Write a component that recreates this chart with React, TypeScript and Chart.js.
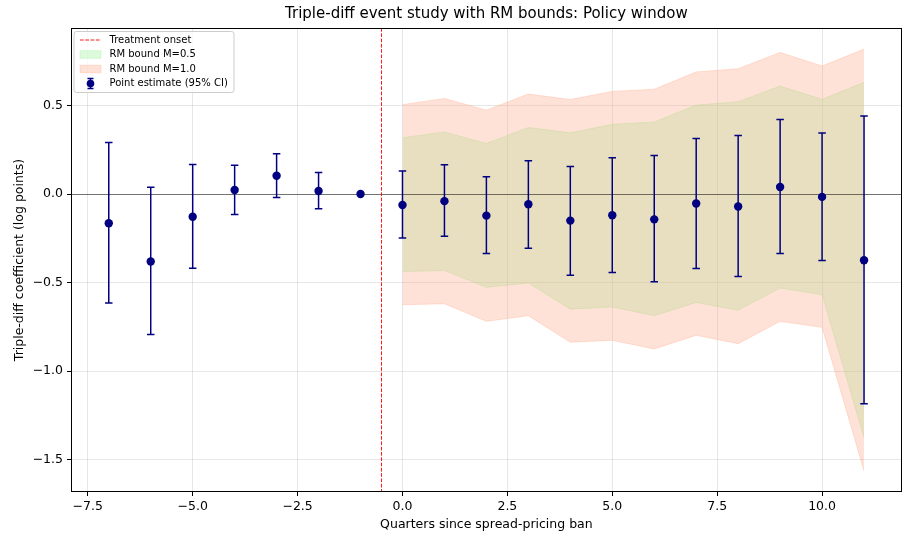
import React, { useEffect, useRef } from "react";
import { Chart, registerables } from "chart.js";

Chart.register(...registerables);

// ---------- data ----------
const TITLE = "Triple-diff event study with RM bounds: Policy window";
const X_LABEL = "Quarters since spread-pricing ban";
const Y_LABEL = "Triple-diff coefficient (log points)";

const QUARTERS = [-7, -6, -5, -4, -3, -2, -1, 0, 1, 2, 3, 4, 5, 6, 7, 8, 9, 10, 11];
const ESTIMATE = [-0.165, -0.381, -0.128, 0.023, 0.103, 0.017, 0.0, -0.062, -0.04, -0.122, -0.058, -0.15, -0.12, -0.143, -0.053, -0.07, 0.04, -0.016, -0.374];
const CI_LOW = [-0.616, -0.794, -0.419, -0.116, -0.019, -0.083, 0.0, -0.248, -0.239, -0.336, -0.306, -0.458, -0.443, -0.496, -0.421, -0.466, -0.336, -0.376, -1.185];
const CI_HIGH = [0.291, 0.038, 0.167, 0.163, 0.227, 0.122, 0.0, 0.13, 0.165, 0.098, 0.188, 0.156, 0.205, 0.218, 0.314, 0.331, 0.421, 0.345, 0.441];

const BAND_QUARTERS = [0, 1, 2, 3, 4, 5, 6, 7, 8, 9, 10, 11];
const M05_HIGH = [0.318, 0.351, 0.286, 0.376, 0.346, 0.394, 0.407, 0.503, 0.522, 0.61, 0.535, 0.631];
const M05_LOW = [-0.438, -0.432, -0.527, -0.503, -0.65, -0.638, -0.687, -0.612, -0.657, -0.531, -0.569, -1.376];
const M10_HIGH = [0.505, 0.54, 0.474, 0.565, 0.534, 0.58, 0.592, 0.69, 0.708, 0.8, 0.723, 0.819];
const M10_LOW = [-0.625, -0.62, -0.719, -0.687, -0.837, -0.826, -0.875, -0.798, -0.845, -0.719, -0.753, -1.564];

const ONSET = -0.5;
const X_TICKS = [-7.5, -5, -2.5, 0, 2.5, 5, 7.5, 10];
const Y_TICKS = [-1.5, -1, -0.5, 0, 0.5];
const X_LIMITS = [-7.9, 11.9];
const Y_LIMITS = [-1.683, 0.938];

const LEGEND_LABELS = ["Treatment onset", "RM bound M=0.5", "RM bound M=1.0", "Point estimate (95% CI)"];

// ---------- styles ----------
const FONT = '"DejaVu Sans", "Liberation Sans", sans-serif';
const NAVY = "#000080";
const RED = "rgba(255,0,0,0.9)";
const GREEN_A = "rgba(144,238,144,0.3)";
const SALMON_A = "rgba(255,160,122,0.3)";
const GRID = "rgba(176,176,176,0.3)";

const fmt = (v: number) => {
  const s = v.toFixed(1);
  return s.startsWith("-") ? "\u2212" + s.slice(1) : s;
};

const pts = (xs: number[], ys: number[]) => xs.map((x, i) => ({ x, y: ys[i] }));

const overlay = {
  id: "overlay",
  beforeDatasetDraw(chart: any, args: any) {
    if (args.index !== 0) return;
    const { ctx, chartArea: ca, scales } = chart;
    const xs = scales.x;
    const ys = scales.y;
    ctx.save();
    ctx.beginPath();
    ctx.rect(ca.left, ca.top, ca.right - ca.left, ca.bottom - ca.top);
    ctx.clip();
    // zero line
    const y0 = Math.floor(ys.getPixelForValue(0)) + 0.5;
    ctx.strokeStyle = "rgba(0,0,0,0.5)";
    ctx.lineWidth = 1;
    ctx.beginPath();
    ctx.moveTo(ca.left, y0);
    ctx.lineTo(ca.right, y0);
    ctx.stroke();
    // onset line
    const xo = Math.floor(xs.getPixelForValue(ONSET)) + 0.5;
    ctx.strokeStyle = RED;
    ctx.setLineDash([3.7, 1.6]);
    ctx.beginPath();
    ctx.moveTo(xo, ca.top);
    ctx.lineTo(xo, ca.bottom);
    ctx.stroke();
    ctx.setLineDash([]);
    // error bars
    ctx.strokeStyle = NAVY;
    ctx.lineWidth = 1.5;
    const cap = 3.75;
    QUARTERS.forEach((q, i) => {
      if (CI_LOW[i] === CI_HIGH[i]) return;
      const px = xs.getPixelForValue(q);
      const lo = ys.getPixelForValue(CI_LOW[i]);
      const hi = ys.getPixelForValue(CI_HIGH[i]);
      ctx.beginPath();
      ctx.moveTo(px, lo);
      ctx.lineTo(px, hi);
      ctx.moveTo(px - cap, lo);
      ctx.lineTo(px + cap, lo);
      ctx.moveTo(px - cap, hi);
      ctx.lineTo(px + cap, hi);
      ctx.stroke();
    });
    ctx.restore();
  },
  afterDraw(chart: any) {
    const { ctx, chartArea: ca } = chart;
    ctx.save();
    // spines
    ctx.strokeStyle = "#000";
    ctx.lineWidth = 1;
    ctx.strokeRect(Math.round(ca.left) + 0.5, Math.round(ca.top) + 0.5, Math.round(ca.right - ca.left) - 1, Math.round(ca.bottom - ca.top) - 1);
    // title
    ctx.fillStyle = "#000";
    ctx.font = `15px ${FONT}`;
    ctx.textAlign = "center";
    ctx.textBaseline = "middle";
    ctx.fillText(TITLE, (ca.left + ca.right) / 2, 14);
    // legend
    const bx = ca.left + 3, by = ca.top + 3.5, bw = 160, bh = 61, r = 2.5;
    ctx.beginPath();
    ctx.moveTo(bx + r, by);
    ctx.lineTo(bx + bw - r, by);
    ctx.arcTo(bx + bw, by, bx + bw, by + r, r);
    ctx.lineTo(bx + bw, by + bh - r);
    ctx.arcTo(bx + bw, by + bh, bx + bw - r, by + bh, r);
    ctx.lineTo(bx + r, by + bh);
    ctx.arcTo(bx, by + bh, bx, by + bh - r, r);
    ctx.lineTo(bx, by + r);
    ctx.arcTo(bx, by, bx + r, by, r);
    ctx.closePath();
    ctx.fillStyle = "rgba(255,255,255,0.8)";
    ctx.fill();
    ctx.strokeStyle = "#cccccc";
    ctx.stroke();

    const hx0 = bx + 6, hx1 = bx + 27, hc = (hx0 + hx1) / 2;
    const rows = [by + 8.5, by + 23, by + 37.5, by + 52];
    // onset
    ctx.strokeStyle = RED;
    ctx.setLineDash([3.7, 1.6]);
    ctx.beginPath();
    ctx.moveTo(hx0, rows[0]);
    ctx.lineTo(hx1, rows[0]);
    ctx.stroke();
    ctx.setLineDash([]);
    // patches
    const patch = (y: number, c: string) => {
      ctx.fillStyle = c;
      ctx.strokeStyle = c;
      ctx.fillRect(hx0, y - 3.75, hx1 - hx0, 7.5);
      ctx.strokeRect(hx0, y - 3.75, hx1 - hx0, 7.5);
    };
    patch(rows[1], GREEN_A);
    patch(rows[2], SALMON_A);
    // point estimate
    ctx.strokeStyle = NAVY;
    ctx.lineWidth = 1.5;
    ctx.beginPath();
    ctx.moveTo(hc, rows[3] - 5);
    ctx.lineTo(hc, rows[3] + 5);
    ctx.moveTo(hc - 3, rows[3] - 5);
    ctx.lineTo(hc + 3, rows[3] - 5);
    ctx.moveTo(hc - 3, rows[3] + 5);
    ctx.lineTo(hc + 3, rows[3] + 5);
    ctx.stroke();
    ctx.fillStyle = NAVY;
    ctx.beginPath();
    ctx.arc(hc, rows[3], 3.8, 0, Math.PI * 2);
    ctx.fill();
    // texts
    ctx.fillStyle = "#000";
    ctx.font = `10px ${FONT}`;
    ctx.textAlign = "left";
    ctx.textBaseline = "middle";
    LEGEND_LABELS.forEach((t, i) => ctx.fillText(t, bx + 35.5, rows[i]));
    ctx.restore();
  },
};

export default function App() {
  const ref = useRef<HTMLCanvasElement | null>(null);

  useEffect(() => {
    if (!ref.current) return;
    const tickFont = { family: FONT, size: 12.5 };
    const chart = new Chart(ref.current, {
      type: "scatter",
      data: {
        datasets: [
          {
            type: "scatter",
            label: LEGEND_LABELS[3],
            data: pts(QUARTERS, ESTIMATE),
            backgroundColor: NAVY,
            borderColor: NAVY,
            borderWidth: 0,
            pointRadius: 4.2,
          } as any,
          {
            type: "line",
            label: LEGEND_LABELS[2] + " upper",
            data: pts(BAND_QUARTERS, M10_HIGH),
            borderColor: SALMON_A,
            borderWidth: 1,
            pointRadius: 0,
            fill: false,
            tension: 0,
          },
          {
            type: "line",
            label: LEGEND_LABELS[2],
            data: pts(BAND_QUARTERS, M10_LOW),
            borderColor: SALMON_A,
            backgroundColor: SALMON_A,
            borderWidth: 1,
            pointRadius: 0,
            fill: "-1",
            tension: 0,
          },
          {
            type: "line",
            label: LEGEND_LABELS[1] + " upper",
            data: pts(BAND_QUARTERS, M05_HIGH),
            borderColor: GREEN_A,
            borderWidth: 1,
            pointRadius: 0,
            fill: false,
            tension: 0,
          },
          {
            type: "line",
            label: LEGEND_LABELS[1],
            data: pts(BAND_QUARTERS, M05_LOW),
            borderColor: GREEN_A,
            backgroundColor: GREEN_A,
            borderWidth: 1,
            pointRadius: 0,
            fill: "-1",
            tension: 0,
          },
        ],
      },
      options: {
        responsive: false,
        animation: false,
        events: [],
        layout: { padding: { left: 0, right: 3, top: 28, bottom: 0 } },
        plugins: {
          legend: { display: false },
          title: { display: false },
          tooltip: { enabled: false },
        },
        scales: {
          x: {
            type: "linear",
            min: X_LIMITS[0],
            max: X_LIMITS[1],
            afterBuildTicks: (s: any) => {
              s.ticks = X_TICKS.map((v) => ({ value: v }));
            },
            afterFit: (s: any) => {
              s.height = 45;
            },
            grid: { color: GRID, lineWidth: 1, tickColor: "#000", tickLength: 4, tickWidth: 1 },
            border: { display: false },
            ticks: {
              font: tickFont,
              color: "#000",
              padding: 3,
              maxRotation: 0,
              autoSkip: false,
              callback: (v: any) => fmt(Number(v)),
            },
            title: {
              display: true,
              text: X_LABEL,
              font: tickFont,
              color: "#000",
              padding: { top: 0, bottom: 4.5 },
            },
          },
          y: {
            type: "linear",
            min: Y_LIMITS[0],
            max: Y_LIMITS[1],
            afterBuildTicks: (s: any) => {
              s.ticks = Y_TICKS.map((v) => ({ value: v }));
            },
            afterFit: (s: any) => {
              s.width = 71;
            },
            grid: { color: GRID, lineWidth: 1, tickColor: "#000", tickLength: 4, tickWidth: 1 },
            border: { display: false },
            ticks: {
              font: tickFont,
              color: "#000",
              padding: 4,
              autoSkip: false,
              callback: (v: any) => fmt(Number(v)),
            },
            title: {
              display: true,
              text: Y_LABEL,
              font: tickFont,
              color: "#000",
              padding: { top: 12, bottom: 0 },
            },
          },
        },
      },
      plugins: [overlay],
    } as any);
    return () => chart.destroy();
  }, []);

  return (
    <div style={{ position: "fixed", left: 0, top: 0, width: 906, height: 537, background: "#fff" }}>
      <canvas ref={ref} width={906} height={537} />
    </div>
  );
}
